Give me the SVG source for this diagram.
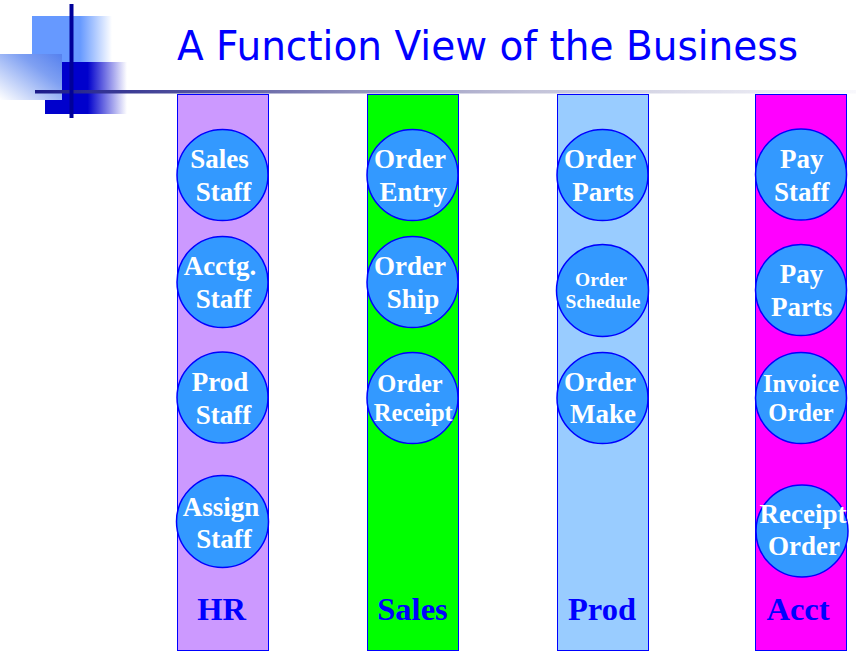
<svg xmlns="http://www.w3.org/2000/svg" width="856" height="657" viewBox="0 0 856 657">
<style>
.lane{stroke:#0000FF;stroke-width:1}
.node circle{fill:#3399FF;stroke:#0000FF;stroke-width:1.5}
.node text{font-family:"Liberation Serif","Times New Roman",serif;font-weight:bold;fill:#FFFFFF;text-anchor:middle}
.f27{font-size:27px}
.f24{font-size:24.5px}
.f19{font-size:19.5px}
.lbl{font-family:"Liberation Serif","Times New Roman",serif;font-weight:bold;font-size:32.5px;fill:#0000FF;text-anchor:middle}
.title{font-family:"DejaVu Sans",Tahoma,sans-serif;font-size:41.5px;fill:#0000FF}
</style>
<defs>
<linearGradient id="gLight" x1="0" y1="0" x2="1" y2="0">
<stop offset="0" stop-color="#6699FF"/><stop offset="0.6" stop-color="#6699FF"/><stop offset="1" stop-color="#FFFFFF"/>
</linearGradient>
<linearGradient id="gDark" x1="0" y1="0" x2="1" y2="0">
<stop offset="0" stop-color="#0000CC"/><stop offset="0.52" stop-color="#0000CC"/><stop offset="1" stop-color="#FFFFFF"/>
</linearGradient>
<linearGradient id="gLeft" x1="1" y1="0" x2="0" y2="1">
<stop offset="0" stop-color="#5580EE"/><stop offset="0.35" stop-color="#7FA0F2"/><stop offset="1" stop-color="#FFFFFF"/>
</linearGradient>
<linearGradient id="gLine" x1="0" y1="0" x2="1" y2="0">
<stop offset="0" stop-color="#1A1A8A"/><stop offset="0.2" stop-color="#55559E"/><stop offset="0.4" stop-color="#9494BE"/><stop offset="0.6" stop-color="#C2C2D8"/><stop offset="1" stop-color="#F8F8FC"/>
</linearGradient>
</defs>
<rect width="856" height="657" fill="#FFFFFF"/>
<g id="decoration">
<rect x="32" y="16" width="80" height="46" fill="url(#gLight)"/>
<rect x="45" y="62" width="82" height="52" fill="url(#gDark)"/>
<rect x="0" y="54" width="62" height="46" fill="url(#gLeft)"/>
<rect x="35" y="90" width="821" height="3.5" fill="url(#gLine)"/>
<rect x="69.5" y="4" width="4" height="114" fill="#000099"/>
</g>
<text class="title" x="177" y="60" textLength="621" lengthAdjust="spacingAndGlyphs">A Function View of the Business</text>
<g id="lanes">
<g id="lane-hr"><rect class="lane" x="177.5" y="94.5" width="91" height="556" fill="#CC99FF"/><text class="lbl" x="221.5" y="620">HR</text></g>
<g id="lane-sales"><rect class="lane" x="367.5" y="94.5" width="91" height="556" fill="#00FF00"/><text class="lbl" x="412.5" y="620">Sales</text></g>
<g id="lane-prod"><rect class="lane" x="557.5" y="94.5" width="91" height="556" fill="#99CCFF"/><text class="lbl" x="602" y="620">Prod</text></g>
<g id="lane-acct"><rect class="lane" x="755.5" y="94.5" width="91" height="556" fill="#FF00FF"/><text class="lbl" x="798" y="620">Acct</text></g>
</g>
<g id="connectors"/>
<g id="nodes">
<g id="sales-staff" class="node"><circle cx="222.5" cy="175" r="45.5"/><text class="f27" x="219.5" y="167.5">Sales</text><text class="f27" x="223.5" y="200.5">Staff</text></g>
<g id="acctg-staff" class="node"><circle cx="222.5" cy="282" r="45.5"/><text class="f27" x="220" y="274.5">Acctg.</text><text class="f27" x="223.5" y="307.5">Staff</text></g>
<g id="prod-staff" class="node"><circle cx="222.5" cy="397.5" r="45.5"/><text class="f27" x="220" y="391">Prod</text><text class="f27" x="223.5" y="424">Staff</text></g>
<g id="assign-staff" class="node"><circle cx="222.5" cy="521.5" r="46"/><text class="f27" x="221" y="516">Assign</text><text class="f27" x="224" y="548">Staff</text></g>

<g id="order-entry" class="node"><circle cx="412.5" cy="175" r="45.5"/><text class="f27" x="410" y="168">Order</text><text class="f27" x="413.3" y="201">Entry</text></g>
<g id="order-ship" class="node"><circle cx="412.5" cy="282" r="45.5"/><text class="f27" x="410" y="275">Order</text><text class="f27" x="413" y="308">Ship</text></g>
<g id="order-receipt" class="node"><circle cx="412.5" cy="398" r="45.5"/><text class="f24" x="410" y="391.7">Order</text><text class="f24" x="413.3" y="421">Receipt</text></g>

<g id="order-parts" class="node"><circle cx="602.5" cy="175" r="45.5"/><text class="f27" x="600" y="168">Order</text><text class="f27" x="603" y="201">Parts</text></g>
<g id="order-schedule" class="node"><circle cx="602.5" cy="290.5" r="46"/><text class="f19" x="601" y="285.7">Order</text><text class="f19" x="603" y="308.3">Schedule</text></g>
<g id="order-make" class="node"><circle cx="602.5" cy="398" r="45.5"/><text class="f27" x="600" y="390.7">Order</text><text class="f27" x="603" y="423.3">Make</text></g>

<g id="pay-staff" class="node"><circle cx="801" cy="174.5" r="45.5"/><text class="f27" x="801.7" y="168">Pay</text><text class="f27" x="801.7" y="201">Staff</text></g>
<g id="pay-parts" class="node"><circle cx="801" cy="290" r="45.5"/><text class="f27" x="801.5" y="283.3">Pay</text><text class="f27" x="801.7" y="316">Parts</text></g>
<g id="invoice-order" class="node"><circle cx="801" cy="398" r="45.5"/><text class="f24" x="801" y="391.7">Invoice</text><text class="f24" x="801" y="421">Order</text></g>
<g id="receipt-order" class="node"><circle cx="802" cy="531" r="46"/><text class="f27" x="803" y="523.3">Receipt</text><text class="f27" x="804" y="555">Order</text></g>
</g>
</svg>
